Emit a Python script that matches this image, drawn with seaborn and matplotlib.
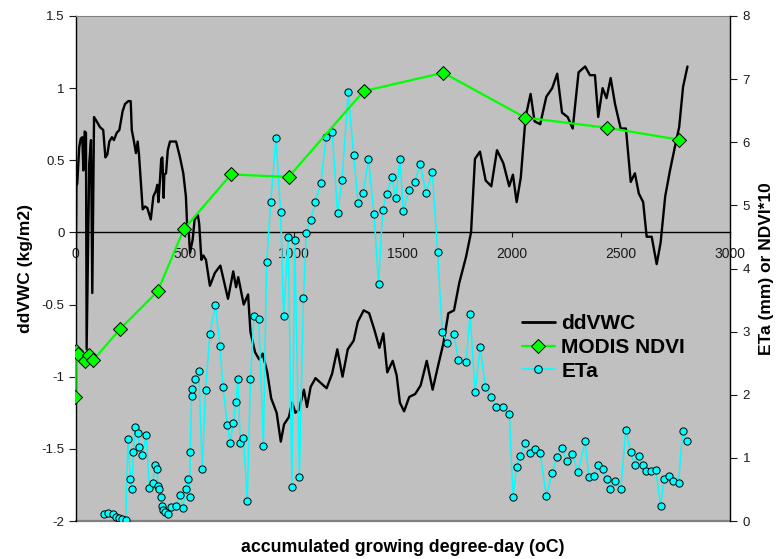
import matplotlib
matplotlib.use("Agg")
import matplotlib.pyplot as plt
import seaborn as sns
import pandas as pd
from matplotlib.lines import Line2D

# ---- data -------------------------------------------------------------
# soil water change (left axis)
gdd_vwc = [0, 4, 8, 17, 24, 31, 36, 42, 48, 51,
           63, 71, 77, 85, 97, 112, 127, 137, 146, 155,
           167, 176, 189, 201, 216, 227, 242, 253, 258, 268,
           277, 285, 291, 299, 308, 319, 329, 345, 357, 369,
           375, 380, 387, 393, 398, 404, 407, 415, 423, 433,
           461, 479, 494, 506, 512, 519, 525, 537, 546, 561,
           567, 577, 586, 598,
           616, 639, 664, 699, 723, 736, 746, 771, 791, 802,
           823, 842, 858, 879, 897, 922, 941, 956, 978, 993,
           1008, 1024, 1047, 1061, 1078, 1100, 1151, 1176, 1200, 1224,
           1248, 1275, 1294, 1321, 1346, 1371, 1393, 1411, 1429, 1454,
           1472, 1487, 1506, 1530, 1557, 1582, 1610, 1637, 1658, 1686,
           1709, 1735, 1759, 1790, 1813,
           1831, 1854, 1880, 1906, 1932, 1961, 1988, 2005, 2022, 2041,
           2063, 2086, 2104, 2130, 2158, 2185, 2208, 2230, 2256, 2279,
           2306, 2336, 2358, 2381, 2396, 2416, 2434, 2453, 2473, 2499,
           2523, 2545, 2564, 2582, 2602, 2618, 2641, 2664, 2682, 2703,
           2725, 2747, 2767, 2785, 2805]
ddvwc = [-0.54, 0.32, 0.34, 0.59, 0.65, 0.66, 0.43, 0.70, 0.69, -0.81,
         0.48, 0.64, -0.42, 0.80, 0.77, 0.73, 0.71, 0.52, 0.54, 0.63,
         0.66, 0.64, 0.69, 0.71, 0.84, 0.89, 0.91, 0.91, 0.71, 0.63,
         0.55, 0.63, 0.54, 0.36, 0.16, 0.18, 0.17, 0.09, 0.25, 0.29,
         0.33, 0.21, 0.36, 0.51, 0.52, 0.24, 0.40, 0.41, 0.57, 0.63,
         0.63, 0.52, 0.41, 0.25, 0.04, 0.00, -0.14, -0.05, 0.09, 0.12,
         0.06, -0.19, -0.16, -0.19,
         -0.37, -0.28, -0.23, -0.46, -0.27, -0.38, -0.31, -0.50, -0.43, -0.69,
         -0.83, -0.88, -0.84, -0.97, -1.15, -1.25, -1.45, -1.33, -1.28, -1.18,
         -1.25, -1.23, -1.09, -1.21, -1.07, -1.01, -1.08, -0.98, -0.81, -1.00,
         -0.81, -0.75, -0.62, -0.54, -0.56, -0.68, -0.80, -0.70, -0.97, -0.89,
         -0.99, -1.18, -1.24, -1.14, -1.12, -1.06, -0.89, -1.09, -0.95, -0.77,
         -0.56, -0.54, -0.35, -0.17, 0.00,
         0.51, 0.56, 0.36, 0.32, 0.57, 0.48, 0.32, 0.40, 0.21, 0.38,
         0.80, 0.96, 0.77, 0.75, 0.94, 1.00, 1.10, 0.83, 0.80, 0.72,
         1.11, 1.15, 1.09, 1.09, 0.80, 1.00, 0.93, 1.07, 0.89, 0.72,
         0.72, 0.35, 0.41, 0.27, 0.21, -0.03, -0.03, -0.22, -0.07, 0.25,
         0.43, 0.59, 0.73, 1.01, 1.15]

# MODIS NDVI x 10 (right axis)
gdd_ndvi = [0, 1, 13, 44, 63, 82, 204, 377, 496, 713, 977, 1321, 1686, 2061, 2436, 2767]
ndvi10 = [1.97, 2.69, 2.65, 2.54, 2.63, 2.55, 3.04, 3.64, 4.62, 5.49, 5.45, 6.81, 7.10,
          6.39, 6.23, 6.04]

# actual evapotranspiration (right axis)
gdd_eta = [132, 148, 170, 184, 199, 214, 230, 241, 252, 259,
           265, 274, 285, 292, 307, 324, 339, 354, 364, 374,
           378, 383, 393, 398, 402, 410, 425, 439, 459, 479,
           493, 505, 516, 523, 526, 532, 536, 548, 565, 581,
           596, 616, 641, 662, 676, 696, 709, 724, 735, 745,
           755, 770, 787, 802, 818, 840, 861, 876, 895, 919,
           940, 954, 975, 992, 1005, 1026, 1045, 1058, 1078, 1100,
           1125, 1149, 1177, 1201, 1222, 1250, 1275, 1295, 1319, 1343,
           1368, 1389, 1408, 1426, 1450, 1468, 1487, 1503, 1528, 1555,
           1580, 1607, 1635, 1660, 1681, 1705, 1734, 1755, 1790, 1809,
           1831, 1855, 1879, 1904, 1929, 1959, 1989, 2005, 2022, 2039,
           2060, 2083, 2106, 2130, 2158, 2185, 2207, 2228, 2253, 2277,
           2304, 2336, 2353, 2378, 2396, 2416, 2434, 2450, 2472, 2500,
           2522, 2544, 2564, 2582, 2601, 2616, 2638, 2660, 2682, 2698,
           2719, 2740, 2764, 2783, 2801]
eta = [0.11, 0.12, 0.11, 0.06, 0.05, 0.03, 0.02, 1.30, 0.67, 0.50,
       1.10, 1.49, 1.40, 1.17, 1.05, 1.36, 0.52, 0.60, 0.89, 0.82,
       0.55, 0.50, 0.38, 0.24, 0.17, 0.14, 0.11, 0.22, 0.24, 0.41,
       0.21, 0.50, 0.66, 0.38, 1.09, 1.98, 2.09, 2.25, 2.38, 0.82,
       2.08, 2.96, 3.42, 2.78, 2.12, 1.52, 1.24, 1.56, 1.89, 2.25,
       1.23, 1.32, 0.31, 2.25, 3.25, 3.20, 1.19, 4.10, 5.06, 6.06,
       4.90, 3.25, 4.50, 0.54, 4.45, 0.70, 3.54, 4.57, 4.77, 5.06,
       5.36, 6.09, 6.16, 4.88, 5.40, 6.79, 5.80, 5.04, 5.20, 5.73,
       4.87, 3.76, 4.92, 5.18, 5.45, 5.11, 5.74, 4.91, 5.24, 5.37,
       5.66, 5.19, 5.53, 4.26, 2.99, 2.82, 2.96, 2.55, 2.52, 3.28,
       2.04, 2.75, 2.12, 1.97, 1.81, 1.81, 1.70, 0.38, 0.86, 1.03,
       1.23, 1.08, 1.14, 1.07, 0.39, 0.76, 1.02, 1.16, 0.95, 1.06,
       0.78, 1.26, 0.70, 0.72, 0.89, 0.82, 0.67, 0.51, 0.63, 0.51,
       1.44, 1.10, 0.88, 1.03, 0.89, 0.79, 0.80, 0.81, 0.24, 0.67,
       0.72, 0.64, 0.60, 1.43, 1.26]

x_ticks = [0, 500, 1000, 1500, 2000, 2500, 3000]
left_ticks = [-2, -1.5, -1, -0.5, 0, 0.5, 1, 1.5]
left_tick_labels = ["-2", "-1.5", "-1", "-0.5", "0", "0.5", "1", "1.5"]
right_ticks = [0, 1, 2, 3, 4, 5, 6, 7, 8]

series_names = ["ddVWC", "MODIS NDVI", "ETa"]
x_title = "accumulated growing degree-day (oC)"
left_title = "ddVWC (kg/m2)"
right_title = "ETa (mm) or NDVI*10"

vwc_df = pd.DataFrame({"gdd": gdd_vwc, "value": ddvwc})
ndvi_df = pd.DataFrame({"gdd": gdd_ndvi, "value": ndvi10})
eta_df = pd.DataFrame({"gdd": gdd_eta, "value": eta})

# ---- style ------------------------------------------------------------
sns.set_style("ticks")
plt.rcParams["font.family"] = ["Liberation Sans", "DejaVu Sans"]
plt.rcParams["text.color"] = "black"
TICK_SIZE = 9.5
TICK_COLOR = "#1a1a1a"

W, H = 778, 559
fig = plt.figure(figsize=(W / 100, H / 100), dpi=100)
L, R, T, B = 75.5, 730.0, 16.0, 521.0
ax = fig.add_axes([L / W, 1 - B / H, (R - L) / W, (B - T) / H])
ax.set_facecolor("#C0C0C0")

BLACK, GREEN, CYAN = "#000000", "#00FF00", "#00FFFF"

# ddVWC on the left axis
sns.lineplot(data=vwc_df, x="gdd", y="value", ax=ax, color=BLACK, lw=1.7,
             estimator=None, sort=False, legend=False)
ax.set_xlim(0, 3000)
ax.set_ylim(-2, 1.5)
ax.set_xticks(x_ticks)
ax.set_xticklabels([str(t) for t in x_ticks], fontsize=TICK_SIZE)
ax.set_yticks(left_ticks)
ax.set_yticklabels(left_tick_labels, fontsize=TICK_SIZE)
ax.set_xlabel("")
ax.set_ylabel("")

ax.spines["bottom"].set_position(("data", 0))
ax.spines["bottom"].set_color(BLACK)
ax.spines["bottom"].set_linewidth(1.0)
ax.spines["left"].set_color(BLACK)
ax.spines["left"].set_linewidth(1.0)
ax.spines["top"].set_visible(True)
ax.spines["top"].set_color("#808080")
ax.spines["top"].set_linewidth(0.8)
ax.spines["right"].set_visible(False)
ax.axhline(-2, color="#808080", lw=1.6, clip_on=False, zorder=0.5)
ax.tick_params(axis="y", direction="out", length=5, width=0.8, pad=3,
               colors=TICK_COLOR)
ax.tick_params(axis="x", direction="out", length=3.5, width=0.8, pad=7,
               colors=TICK_COLOR)

# NDVI and ETa on the right axis
ax2 = ax.twinx()
sns.lineplot(data=eta_df, x="gdd", y="value", ax=ax2, color=CYAN, lw=1.1,
             marker="o", markersize=5.2, markerfacecolor=CYAN, markeredgecolor=BLACK,
             markeredgewidth=0.7, estimator=None, sort=False, legend=False)
sns.lineplot(data=ndvi_df, x="gdd", y="value", ax=ax2, color=GREEN, lw=1.6,
             marker="D", markersize=7, markerfacecolor=GREEN, markeredgecolor=BLACK,
             markeredgewidth=0.7, estimator=None, sort=False, legend=False)
ax2.set_ylim(0, 8)
ax2.set_yticks(right_ticks)
ax2.set_yticklabels([str(t) for t in right_ticks], fontsize=TICK_SIZE)
ax2.set_ylabel("")
for side in ("top", "left", "bottom"):
    ax2.spines[side].set_visible(False)
ax2.spines["right"].set_color(BLACK)
ax2.spines["right"].set_linewidth(1.0)
ax2.tick_params(axis="y", direction="out", length=5, width=0.8, pad=4,
                colors=TICK_COLOR)

# legend
handles = [
    Line2D([], [], color=BLACK, lw=2.0),
    Line2D([], [], color=GREEN, lw=1.6, marker="D", markersize=7,
           markerfacecolor=GREEN, markeredgecolor=BLACK, markeredgewidth=0.7),
    Line2D([], [], color=CYAN, lw=1.2, marker="o", markersize=5.5,
           markerfacecolor=CYAN, markeredgecolor=BLACK, markeredgewidth=0.7),
]
leg = ax2.legend(handles, series_names, loc="center left",
                 bbox_to_anchor=(521.7 / W, 1 - 347.5 / H),
                 bbox_transform=fig.transFigure,
                 frameon=False, prop=dict(weight="bold", size=15),
                 handlelength=1.6, handletextpad=0.3, labelspacing=0.22,
                 borderpad=0, borderaxespad=0)
for txt in leg.get_texts():
    txt.set_color("black")

# axis titles
fig.text((L + R) / 2 / W, 1 - 548 / H, x_title, ha="center", va="center",
         fontsize=12.8, fontweight="bold", color="black")
fig.text(25.5 / W, 1 - (T + B) / 2 / H, left_title, ha="center", va="center",
         rotation=90, fontsize=12.5, fontweight="bold", color="black")
fig.text(766 / W, 1 - (T + B) / 2 / H, right_title, ha="center", va="center",
         rotation=90, fontsize=12.5, fontweight="bold", color="black")

fig.savefig("out.png", dpi=100, facecolor="white")
